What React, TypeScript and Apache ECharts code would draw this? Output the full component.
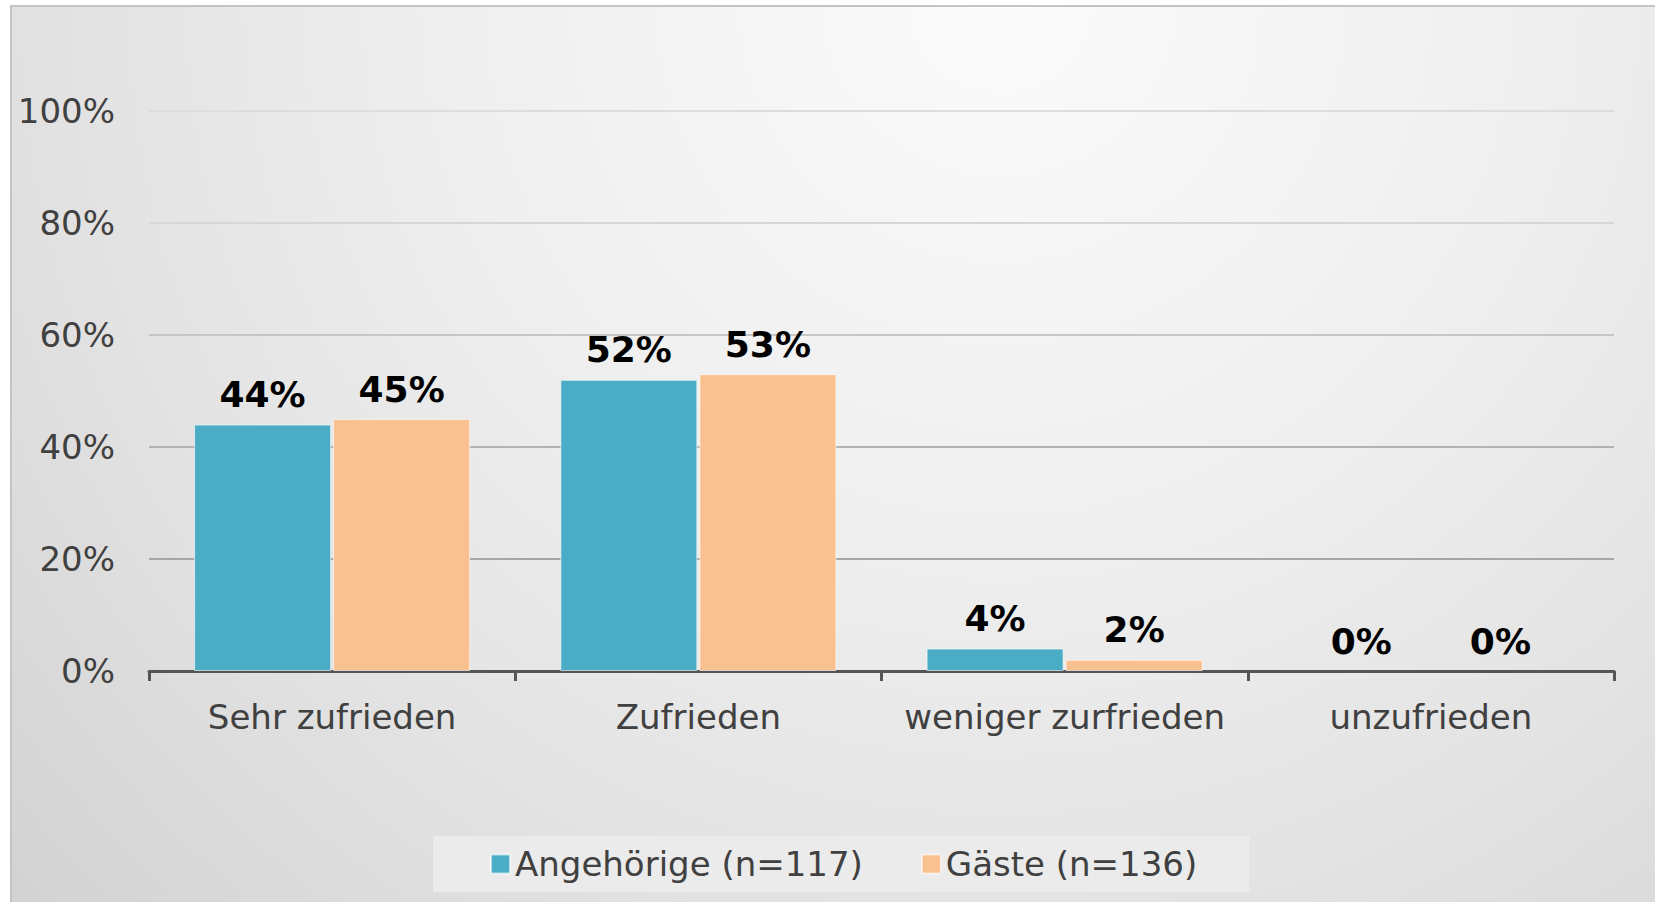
import React, { useEffect, useRef } from "react";
import * as echarts from "echarts";

const categories = ["Sehr zufrieden", "Zufrieden", "weniger zurfrieden", "unzufrieden"];
const angehoerige = [44, 52, 4, 0];
const gaeste = [45, 53, 2, 0];
const seriesNames = ["Angehörige (n=117)", "Gäste (n=136)"];
const yTicks = [0, 20, 40, 60, 80, 100];

const FONT = "Verdana, 'DejaVu Sans', sans-serif";

const toData = (arr: number[]) =>
  arr.map((v) => (v === 0 ? { value: v, itemStyle: { borderWidth: 0 } } : v));

export default function App() {
  const ref = useRef<HTMLDivElement>(null);
  useEffect(() => {
    document.body.style.margin = "0";
    document.body.style.background = "#ffffff";
    const chart = echarts.init(ref.current!, null, { renderer: "svg" });
    const labelCfg = {
      show: true,
      position: "top",
      distance: 12,
      formatter: "{c}%",
      fontFamily: FONT,
      fontSize: 36,
      fontWeight: "bold",
      color: "#000000",
    };
    chart.setOption({
      animation: false,
      graphic: [
        {
          type: "rect",
          z: -10,
          silent: true,
          shape: { x: 11, y: 6, width: 1660, height: 910 },
          style: {
            fill: {
              type: "radial",
              x: 1000,
              y: 0,
              r: 1350,
              global: true,
              colorStops: [
                { offset: 0, color: "#fbfbfb" },
                { offset: 0.4, color: "#efefef" },
                { offset: 0.7, color: "#e2e2e2" },
                { offset: 1, color: "#d2d2d2" },
              ],
            },
            stroke: "#c4c4c4",
            lineWidth: 2,
          },
        },
      ],
      grid: { left: 149, right: 41, top: 111, bottom: 231, containLabel: false },
      legend: {
        data: seriesNames,
        left: 433,
        top: 836,
        padding: [8, 52, 8, 57],
        backgroundColor: "#ebebeb",
        itemWidth: 19,
        itemHeight: 19,
        itemGap: 58,
        icon: "rect",
        textStyle: { fontFamily: FONT, fontSize: 34, color: "#404040", lineHeight: 40 },
      },
      xAxis: {
        type: "category",
        data: categories,
        axisLine: { show: true, lineStyle: { color: "#555555", width: 3 } },
        axisTick: { show: true, interval: 0, length: 10, lineStyle: { color: "#555555", width: 3 } },
        axisLabel: {
          interval: 0,
          fontFamily: FONT,
          fontSize: 34,
          color: "#404040",
          margin: 26,
          lineHeight: 40,
        },
        splitLine: { show: false },
      },
      yAxis: {
        type: "value",
        min: 0,
        max: 100,
        interval: 20,
        axisLine: { show: false },
        axisTick: { show: false },
        axisLabel: {
          fontFamily: FONT,
          fontSize: 34,
          color: "#404040",
          margin: 34,
          formatter: (v: number) => (yTicks.includes(v) ? v + "%" : ""),
        },
        splitLine: {
          show: true,
          lineStyle: {
            width: 2,
            color: ["#a0a0a0", "#a6a6a6", "#b2b2b2", "#c6c6c6", "#d6d6d6", "#dddddd"],
          },
        },
      },
      series: [
        {
          name: seriesNames[0],
          type: "bar",
          data: toData(angehoerige),
          barWidth: 137,
          barGap: "1.5%",
          itemStyle: { color: "#4BACC6", borderColor: "rgba(255,255,255,0.6)", borderWidth: 1 },
          label: labelCfg,
        },
        {
          name: seriesNames[1],
          type: "bar",
          data: toData(gaeste),
          barWidth: 137,
          barGap: "1.5%",
          itemStyle: { color: "#F9C090", borderColor: "rgba(255,255,255,0.6)", borderWidth: 1 },
          label: labelCfg,
        },
      ],
    });
    return () => chart.dispose();
  }, []);
  return <div ref={ref} style={{ width: 1655, height: 902 }} />;
}
